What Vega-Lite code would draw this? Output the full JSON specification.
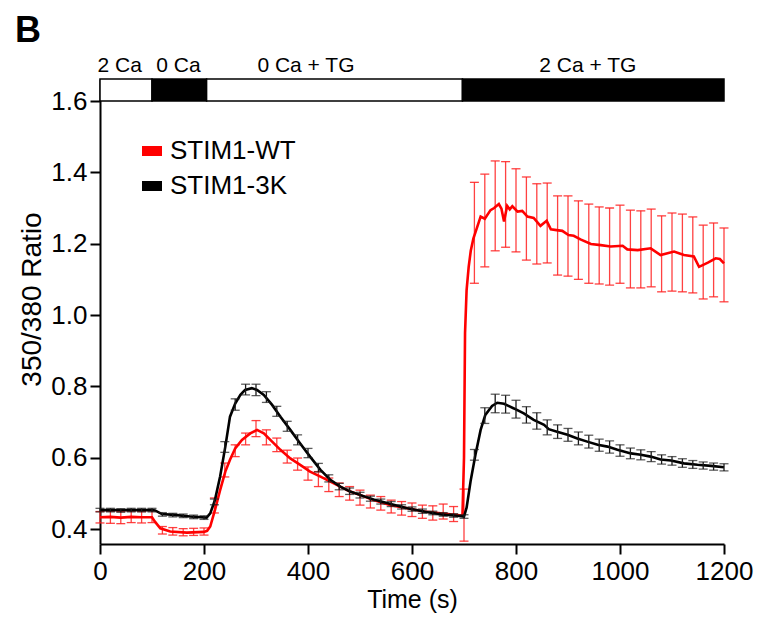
{
  "$schema": "https://vega.github.io/schema/vega-lite/v6.json",
  "width": 624,
  "height": 465,
  "autosize": "none",
  "padding": {"left": 100, "top": 79, "right": 33, "bottom": 77},
  "title": {"text": "B", "anchor": "start", "frame": "group", "dx": -85, "offset": 5, "fontSize": 36, "fontWeight": "bold", "font": "Liberation Sans", "color": "#000"},
  "datasets": {
    "protocol": [
      {"phase": "2 Ca", "start": 0, "end": 100, "labelTime": 38},
      {"phase": "0 Ca", "start": 100, "end": 205, "labelTime": 151},
      {"phase": "0 Ca + TG", "start": 205, "end": 697, "labelTime": 396},
      {"phase": "2 Ca + TG", "start": 697, "end": 1200, "labelTime": 938}
    ],
    "trace": [
      {"series": "STIM1-WT", "t": 0, "v": 0.433},
      {"series": "STIM1-WT", "t": 20, "v": 0.434},
      {"series": "STIM1-WT", "t": 40, "v": 0.432},
      {"series": "STIM1-WT", "t": 60, "v": 0.434},
      {"series": "STIM1-WT", "t": 80, "v": 0.433},
      {"series": "STIM1-WT", "t": 100, "v": 0.433},
      {"series": "STIM1-WT", "t": 106, "v": 0.42},
      {"series": "STIM1-WT", "t": 116, "v": 0.402},
      {"series": "STIM1-WT", "t": 135, "v": 0.393},
      {"series": "STIM1-WT", "t": 167, "v": 0.39},
      {"series": "STIM1-WT", "t": 200, "v": 0.392},
      {"series": "STIM1-WT", "t": 206, "v": 0.395},
      {"series": "STIM1-WT", "t": 212, "v": 0.407},
      {"series": "STIM1-WT", "t": 221, "v": 0.453},
      {"series": "STIM1-WT", "t": 231, "v": 0.509},
      {"series": "STIM1-WT", "t": 241, "v": 0.561},
      {"series": "STIM1-WT", "t": 250, "v": 0.594},
      {"series": "STIM1-WT", "t": 260, "v": 0.626},
      {"series": "STIM1-WT", "t": 273, "v": 0.65},
      {"series": "STIM1-WT", "t": 289, "v": 0.668},
      {"series": "STIM1-WT", "t": 302, "v": 0.678},
      {"series": "STIM1-WT", "t": 315, "v": 0.668},
      {"series": "STIM1-WT", "t": 331, "v": 0.645},
      {"series": "STIM1-WT", "t": 347, "v": 0.622},
      {"series": "STIM1-WT", "t": 366, "v": 0.598},
      {"series": "STIM1-WT", "t": 385, "v": 0.58},
      {"series": "STIM1-WT", "t": 404, "v": 0.561},
      {"series": "STIM1-WT", "t": 424, "v": 0.547},
      {"series": "STIM1-WT", "t": 443, "v": 0.533},
      {"series": "STIM1-WT", "t": 462, "v": 0.519},
      {"series": "STIM1-WT", "t": 481, "v": 0.505},
      {"series": "STIM1-WT", "t": 501, "v": 0.495},
      {"series": "STIM1-WT", "t": 526, "v": 0.481},
      {"series": "STIM1-WT", "t": 559, "v": 0.467},
      {"series": "STIM1-WT", "t": 591, "v": 0.458},
      {"series": "STIM1-WT", "t": 623, "v": 0.449},
      {"series": "STIM1-WT", "t": 655, "v": 0.444},
      {"series": "STIM1-WT", "t": 687, "v": 0.439},
      {"series": "STIM1-WT", "t": 697, "v": 0.437},
      {"series": "STIM1-WT", "t": 700, "v": 0.6},
      {"series": "STIM1-WT", "t": 702, "v": 0.95},
      {"series": "STIM1-WT", "t": 705, "v": 1.07},
      {"series": "STIM1-WT", "t": 709, "v": 1.135},
      {"series": "STIM1-WT", "t": 713, "v": 1.18},
      {"series": "STIM1-WT", "t": 718, "v": 1.214},
      {"series": "STIM1-WT", "t": 725, "v": 1.245},
      {"series": "STIM1-WT", "t": 732, "v": 1.276},
      {"series": "STIM1-WT", "t": 740, "v": 1.27},
      {"series": "STIM1-WT", "t": 751, "v": 1.294},
      {"series": "STIM1-WT", "t": 758, "v": 1.3},
      {"series": "STIM1-WT", "t": 767, "v": 1.311},
      {"series": "STIM1-WT", "t": 772, "v": 1.298},
      {"series": "STIM1-WT", "t": 777, "v": 1.262},
      {"series": "STIM1-WT", "t": 783, "v": 1.306},
      {"series": "STIM1-WT", "t": 788, "v": 1.296},
      {"series": "STIM1-WT", "t": 793, "v": 1.305},
      {"series": "STIM1-WT", "t": 803, "v": 1.29},
      {"series": "STIM1-WT", "t": 812, "v": 1.292},
      {"series": "STIM1-WT", "t": 822, "v": 1.276},
      {"series": "STIM1-WT", "t": 834, "v": 1.272},
      {"series": "STIM1-WT", "t": 847, "v": 1.25},
      {"series": "STIM1-WT", "t": 859, "v": 1.264},
      {"series": "STIM1-WT", "t": 867, "v": 1.24},
      {"series": "STIM1-WT", "t": 878, "v": 1.238},
      {"series": "STIM1-WT", "t": 889, "v": 1.236},
      {"series": "STIM1-WT", "t": 901, "v": 1.224},
      {"series": "STIM1-WT", "t": 911, "v": 1.222},
      {"series": "STIM1-WT", "t": 924, "v": 1.212},
      {"series": "STIM1-WT", "t": 944, "v": 1.199},
      {"series": "STIM1-WT", "t": 963, "v": 1.196},
      {"series": "STIM1-WT", "t": 982, "v": 1.192},
      {"series": "STIM1-WT", "t": 1005, "v": 1.194},
      {"series": "STIM1-WT", "t": 1014, "v": 1.184},
      {"series": "STIM1-WT", "t": 1034, "v": 1.182},
      {"series": "STIM1-WT", "t": 1059, "v": 1.187},
      {"series": "STIM1-WT", "t": 1078, "v": 1.168},
      {"series": "STIM1-WT", "t": 1104, "v": 1.178},
      {"series": "STIM1-WT", "t": 1123, "v": 1.168},
      {"series": "STIM1-WT", "t": 1142, "v": 1.164},
      {"series": "STIM1-WT", "t": 1152, "v": 1.135},
      {"series": "STIM1-WT", "t": 1169, "v": 1.147},
      {"series": "STIM1-WT", "t": 1184, "v": 1.159},
      {"series": "STIM1-WT", "t": 1192, "v": 1.157},
      {"series": "STIM1-WT", "t": 1200, "v": 1.145},
      {"series": "STIM1-3K", "t": 0, "v": 0.453},
      {"series": "STIM1-3K", "t": 50, "v": 0.453},
      {"series": "STIM1-3K", "t": 100, "v": 0.453},
      {"series": "STIM1-3K", "t": 106, "v": 0.452},
      {"series": "STIM1-3K", "t": 119, "v": 0.442},
      {"series": "STIM1-3K", "t": 148, "v": 0.439},
      {"series": "STIM1-3K", "t": 173, "v": 0.435},
      {"series": "STIM1-3K", "t": 205, "v": 0.432},
      {"series": "STIM1-3K", "t": 212, "v": 0.444},
      {"series": "STIM1-3K", "t": 221, "v": 0.481},
      {"series": "STIM1-3K", "t": 231, "v": 0.547},
      {"series": "STIM1-3K", "t": 241, "v": 0.631},
      {"series": "STIM1-3K", "t": 250, "v": 0.715},
      {"series": "STIM1-3K", "t": 260, "v": 0.752},
      {"series": "STIM1-3K", "t": 270, "v": 0.776},
      {"series": "STIM1-3K", "t": 279, "v": 0.79},
      {"series": "STIM1-3K", "t": 292, "v": 0.795},
      {"series": "STIM1-3K", "t": 302, "v": 0.79},
      {"series": "STIM1-3K", "t": 315, "v": 0.776},
      {"series": "STIM1-3K", "t": 331, "v": 0.748},
      {"series": "STIM1-3K", "t": 347, "v": 0.715},
      {"series": "STIM1-3K", "t": 366, "v": 0.678},
      {"series": "STIM1-3K", "t": 385, "v": 0.64},
      {"series": "STIM1-3K", "t": 404, "v": 0.603},
      {"series": "STIM1-3K", "t": 424, "v": 0.566},
      {"series": "STIM1-3K", "t": 443, "v": 0.538},
      {"series": "STIM1-3K", "t": 462, "v": 0.519},
      {"series": "STIM1-3K", "t": 481, "v": 0.505},
      {"series": "STIM1-3K", "t": 501, "v": 0.495},
      {"series": "STIM1-3K", "t": 526, "v": 0.483},
      {"series": "STIM1-3K", "t": 559, "v": 0.47},
      {"series": "STIM1-3K", "t": 591, "v": 0.458},
      {"series": "STIM1-3K", "t": 623, "v": 0.449},
      {"series": "STIM1-3K", "t": 655, "v": 0.441},
      {"series": "STIM1-3K", "t": 687, "v": 0.437},
      {"series": "STIM1-3K", "t": 700, "v": 0.435},
      {"series": "STIM1-3K", "t": 705, "v": 0.46},
      {"series": "STIM1-3K", "t": 713, "v": 0.537},
      {"series": "STIM1-3K", "t": 722, "v": 0.608},
      {"series": "STIM1-3K", "t": 732, "v": 0.678},
      {"series": "STIM1-3K", "t": 741, "v": 0.72},
      {"series": "STIM1-3K", "t": 754, "v": 0.745},
      {"series": "STIM1-3K", "t": 764, "v": 0.754},
      {"series": "STIM1-3K", "t": 777, "v": 0.751},
      {"series": "STIM1-3K", "t": 796, "v": 0.738},
      {"series": "STIM1-3K", "t": 815, "v": 0.724},
      {"series": "STIM1-3K", "t": 834, "v": 0.706},
      {"series": "STIM1-3K", "t": 854, "v": 0.692},
      {"series": "STIM1-3K", "t": 863, "v": 0.68},
      {"series": "STIM1-3K", "t": 879, "v": 0.673},
      {"series": "STIM1-3K", "t": 899, "v": 0.664},
      {"series": "STIM1-3K", "t": 918, "v": 0.654},
      {"series": "STIM1-3K", "t": 937, "v": 0.645},
      {"series": "STIM1-3K", "t": 957, "v": 0.636},
      {"series": "STIM1-3K", "t": 976, "v": 0.631},
      {"series": "STIM1-3K", "t": 995, "v": 0.622},
      {"series": "STIM1-3K", "t": 1021, "v": 0.612},
      {"series": "STIM1-3K", "t": 1040, "v": 0.608},
      {"series": "STIM1-3K", "t": 1059, "v": 0.603},
      {"series": "STIM1-3K", "t": 1078, "v": 0.595},
      {"series": "STIM1-3K", "t": 1098, "v": 0.592},
      {"series": "STIM1-3K", "t": 1123, "v": 0.584},
      {"series": "STIM1-3K", "t": 1149, "v": 0.58},
      {"series": "STIM1-3K", "t": 1175, "v": 0.577},
      {"series": "STIM1-3K", "t": 1200, "v": 0.573}
    ],
    "errors": [
      {"series": "STIM1-WT", "t": 0, "lo": 0.417, "hi": 0.449},
      {"series": "STIM1-WT", "t": 20, "lo": 0.416, "hi": 0.45},
      {"series": "STIM1-WT", "t": 40, "lo": 0.415, "hi": 0.449},
      {"series": "STIM1-WT", "t": 60, "lo": 0.418, "hi": 0.45},
      {"series": "STIM1-WT", "t": 80, "lo": 0.417, "hi": 0.449},
      {"series": "STIM1-WT", "t": 100, "lo": 0.418, "hi": 0.451},
      {"series": "STIM1-WT", "t": 120, "lo": 0.386, "hi": 0.407},
      {"series": "STIM1-WT", "t": 140, "lo": 0.383, "hi": 0.404},
      {"series": "STIM1-WT", "t": 160, "lo": 0.381, "hi": 0.401},
      {"series": "STIM1-WT", "t": 180, "lo": 0.382, "hi": 0.402},
      {"series": "STIM1-WT", "t": 200, "lo": 0.383, "hi": 0.403},
      {"series": "STIM1-WT", "t": 220, "lo": 0.445, "hi": 0.487},
      {"series": "STIM1-WT", "t": 240, "lo": 0.546, "hi": 0.585},
      {"series": "STIM1-WT", "t": 260, "lo": 0.603, "hi": 0.636},
      {"series": "STIM1-WT", "t": 280, "lo": 0.636, "hi": 0.669},
      {"series": "STIM1-WT", "t": 300, "lo": 0.659, "hi": 0.704},
      {"series": "STIM1-WT", "t": 320, "lo": 0.636, "hi": 0.678},
      {"series": "STIM1-WT", "t": 340, "lo": 0.617, "hi": 0.655},
      {"series": "STIM1-WT", "t": 360, "lo": 0.585, "hi": 0.621},
      {"series": "STIM1-WT", "t": 380, "lo": 0.565, "hi": 0.599},
      {"series": "STIM1-WT", "t": 400, "lo": 0.537, "hi": 0.574},
      {"series": "STIM1-WT", "t": 420, "lo": 0.519, "hi": 0.561},
      {"series": "STIM1-WT", "t": 440, "lo": 0.505, "hi": 0.543},
      {"series": "STIM1-WT", "t": 460, "lo": 0.491, "hi": 0.529},
      {"series": "STIM1-WT", "t": 480, "lo": 0.481, "hi": 0.519},
      {"series": "STIM1-WT", "t": 500, "lo": 0.467, "hi": 0.509},
      {"series": "STIM1-WT", "t": 520, "lo": 0.459, "hi": 0.495},
      {"series": "STIM1-WT", "t": 540, "lo": 0.453, "hi": 0.491},
      {"series": "STIM1-WT", "t": 560, "lo": 0.445, "hi": 0.481},
      {"series": "STIM1-WT", "t": 580, "lo": 0.439, "hi": 0.477},
      {"series": "STIM1-WT", "t": 600, "lo": 0.435, "hi": 0.473},
      {"series": "STIM1-WT", "t": 620, "lo": 0.43, "hi": 0.467},
      {"series": "STIM1-WT", "t": 640, "lo": 0.425, "hi": 0.465},
      {"series": "STIM1-WT", "t": 660, "lo": 0.428, "hi": 0.47},
      {"series": "STIM1-WT", "t": 680, "lo": 0.421, "hi": 0.463},
      {"series": "STIM1-WT", "t": 700, "lo": 0.366, "hi": 0.512},
      {"series": "STIM1-WT", "t": 720, "lo": 1.089, "hi": 1.372},
      {"series": "STIM1-WT", "t": 740, "lo": 1.135, "hi": 1.395},
      {"series": "STIM1-WT", "t": 760, "lo": 1.18, "hi": 1.432},
      {"series": "STIM1-WT", "t": 780, "lo": 1.19, "hi": 1.43},
      {"series": "STIM1-WT", "t": 800, "lo": 1.177, "hi": 1.41},
      {"series": "STIM1-WT", "t": 820, "lo": 1.154, "hi": 1.387},
      {"series": "STIM1-WT", "t": 840, "lo": 1.143, "hi": 1.368},
      {"series": "STIM1-WT", "t": 860, "lo": 1.146, "hi": 1.37},
      {"series": "STIM1-WT", "t": 880, "lo": 1.112, "hi": 1.334},
      {"series": "STIM1-WT", "t": 900, "lo": 1.109, "hi": 1.334},
      {"series": "STIM1-WT", "t": 920, "lo": 1.1, "hi": 1.32},
      {"series": "STIM1-WT", "t": 940, "lo": 1.089, "hi": 1.311},
      {"series": "STIM1-WT", "t": 960, "lo": 1.087, "hi": 1.303},
      {"series": "STIM1-WT", "t": 980, "lo": 1.084, "hi": 1.3},
      {"series": "STIM1-WT", "t": 1000, "lo": 1.089, "hi": 1.308},
      {"series": "STIM1-WT", "t": 1020, "lo": 1.076, "hi": 1.294},
      {"series": "STIM1-WT", "t": 1040, "lo": 1.076, "hi": 1.292},
      {"series": "STIM1-WT", "t": 1060, "lo": 1.079, "hi": 1.297},
      {"series": "STIM1-WT", "t": 1080, "lo": 1.065, "hi": 1.278},
      {"series": "STIM1-WT", "t": 1100, "lo": 1.067, "hi": 1.286},
      {"series": "STIM1-WT", "t": 1120, "lo": 1.065, "hi": 1.283},
      {"series": "STIM1-WT", "t": 1140, "lo": 1.062, "hi": 1.275},
      {"series": "STIM1-WT", "t": 1160, "lo": 1.045, "hi": 1.252},
      {"series": "STIM1-WT", "t": 1180, "lo": 1.051, "hi": 1.258},
      {"series": "STIM1-WT", "t": 1200, "lo": 1.037, "hi": 1.244},
      {"series": "STIM1-3K", "t": 0, "lo": 0.448, "hi": 0.458},
      {"series": "STIM1-3K", "t": 20, "lo": 0.448, "hi": 0.458},
      {"series": "STIM1-3K", "t": 40, "lo": 0.447, "hi": 0.457},
      {"series": "STIM1-3K", "t": 60, "lo": 0.448, "hi": 0.458},
      {"series": "STIM1-3K", "t": 80, "lo": 0.448, "hi": 0.458},
      {"series": "STIM1-3K", "t": 100, "lo": 0.448, "hi": 0.458},
      {"series": "STIM1-3K", "t": 120, "lo": 0.436, "hi": 0.446},
      {"series": "STIM1-3K", "t": 140, "lo": 0.434, "hi": 0.444},
      {"series": "STIM1-3K", "t": 160, "lo": 0.432, "hi": 0.442},
      {"series": "STIM1-3K", "t": 180, "lo": 0.429, "hi": 0.439},
      {"series": "STIM1-3K", "t": 200, "lo": 0.427, "hi": 0.437},
      {"series": "STIM1-3K", "t": 220, "lo": 0.468, "hi": 0.484},
      {"series": "STIM1-3K", "t": 240, "lo": 0.615, "hi": 0.645},
      {"series": "STIM1-3K", "t": 260, "lo": 0.733, "hi": 0.765},
      {"series": "STIM1-3K", "t": 280, "lo": 0.776, "hi": 0.806},
      {"series": "STIM1-3K", "t": 300, "lo": 0.774, "hi": 0.806},
      {"series": "STIM1-3K", "t": 320, "lo": 0.755, "hi": 0.785},
      {"series": "STIM1-3K", "t": 340, "lo": 0.716, "hi": 0.744},
      {"series": "STIM1-3K", "t": 360, "lo": 0.674, "hi": 0.702},
      {"series": "STIM1-3K", "t": 380, "lo": 0.636, "hi": 0.664},
      {"series": "STIM1-3K", "t": 400, "lo": 0.6, "hi": 0.626},
      {"series": "STIM1-3K", "t": 420, "lo": 0.56, "hi": 0.584},
      {"series": "STIM1-3K", "t": 440, "lo": 0.532, "hi": 0.552},
      {"series": "STIM1-3K", "t": 460, "lo": 0.51, "hi": 0.528},
      {"series": "STIM1-3K", "t": 480, "lo": 0.497, "hi": 0.515},
      {"series": "STIM1-3K", "t": 500, "lo": 0.487, "hi": 0.503},
      {"series": "STIM1-3K", "t": 520, "lo": 0.478, "hi": 0.492},
      {"series": "STIM1-3K", "t": 540, "lo": 0.47, "hi": 0.484},
      {"series": "STIM1-3K", "t": 560, "lo": 0.463, "hi": 0.477},
      {"series": "STIM1-3K", "t": 580, "lo": 0.456, "hi": 0.468},
      {"series": "STIM1-3K", "t": 600, "lo": 0.45, "hi": 0.462},
      {"series": "STIM1-3K", "t": 620, "lo": 0.444, "hi": 0.456},
      {"series": "STIM1-3K", "t": 640, "lo": 0.44, "hi": 0.45},
      {"series": "STIM1-3K", "t": 660, "lo": 0.436, "hi": 0.446},
      {"series": "STIM1-3K", "t": 680, "lo": 0.433, "hi": 0.443},
      {"series": "STIM1-3K", "t": 700, "lo": 0.43, "hi": 0.44},
      {"series": "STIM1-3K", "t": 720, "lo": 0.593, "hi": 0.623},
      {"series": "STIM1-3K", "t": 740, "lo": 0.696, "hi": 0.74},
      {"series": "STIM1-3K", "t": 760, "lo": 0.726, "hi": 0.778},
      {"series": "STIM1-3K", "t": 780, "lo": 0.725, "hi": 0.775},
      {"series": "STIM1-3K", "t": 800, "lo": 0.711, "hi": 0.761},
      {"series": "STIM1-3K", "t": 820, "lo": 0.697, "hi": 0.743},
      {"series": "STIM1-3K", "t": 840, "lo": 0.68, "hi": 0.726},
      {"series": "STIM1-3K", "t": 860, "lo": 0.664, "hi": 0.706},
      {"series": "STIM1-3K", "t": 880, "lo": 0.654, "hi": 0.692},
      {"series": "STIM1-3K", "t": 900, "lo": 0.646, "hi": 0.682},
      {"series": "STIM1-3K", "t": 920, "lo": 0.636, "hi": 0.672},
      {"series": "STIM1-3K", "t": 940, "lo": 0.627, "hi": 0.663},
      {"series": "STIM1-3K", "t": 960, "lo": 0.618, "hi": 0.652},
      {"series": "STIM1-3K", "t": 980, "lo": 0.613, "hi": 0.647},
      {"series": "STIM1-3K", "t": 1000, "lo": 0.604, "hi": 0.636},
      {"series": "STIM1-3K", "t": 1020, "lo": 0.597, "hi": 0.627},
      {"series": "STIM1-3K", "t": 1040, "lo": 0.594, "hi": 0.622},
      {"series": "STIM1-3K", "t": 1060, "lo": 0.589, "hi": 0.617},
      {"series": "STIM1-3K", "t": 1080, "lo": 0.582, "hi": 0.608},
      {"series": "STIM1-3K", "t": 1100, "lo": 0.579, "hi": 0.603},
      {"series": "STIM1-3K", "t": 1120, "lo": 0.573, "hi": 0.597},
      {"series": "STIM1-3K", "t": 1140, "lo": 0.57, "hi": 0.592},
      {"series": "STIM1-3K", "t": 1160, "lo": 0.568, "hi": 0.588},
      {"series": "STIM1-3K", "t": 1180, "lo": 0.565, "hi": 0.585},
      {"series": "STIM1-3K", "t": 1200, "lo": 0.563, "hi": 0.583}
    ]
  },
  "layer": [
    {
      "data": {"name": "errors"},
      "transform": [{"filter": "datum.series === 'STIM1-WT'"}],
      "mark": {"type": "errorbar", "ticks": {"size": 9}, "thickness": 1.3, "color": "#ff2020", "opacity": 0.85},
      "encoding": {
        "x": {"field": "t", "type": "quantitative", "title": "Time (s)"},
        "y": {"field": "lo", "type": "quantitative", "title": "350/380 Ratio"},
        "y2": {"field": "hi"}
      }
    },
    {
      "data": {"name": "trace"},
      "mark": {"type": "line", "strokeWidth": 2.6},
      "encoding": {
        "x": {"field": "t", "type": "quantitative", "title": "Time (s)", "scale": {"domain": [0, 1200], "nice": false}, "axis": {"values": [0, 200, 400, 600, 800, 1000, 1200], "format": "d"}},
        "y": {"field": "v", "type": "quantitative", "title": "350/380 Ratio", "scale": {"domain": [0.358, 1.6617], "nice": false, "zero": false}, "axis": {"values": [0.4, 0.6, 0.8, 1.0, 1.2, 1.4, 1.6], "format": ".1f", "titleFontSize": 28, "titleY": 220}},
        "color": {
          "field": "series", "type": "nominal",
          "scale": {"domain": ["STIM1-WT", "STIM1-3K"], "range": ["#ff0000", "#000000"]},
          "legend": {"title": null, "orient": "none", "legendX": 37, "legendY": 57, "padding": 0, "symbolType": "stroke", "symbolStrokeWidth": 10, "symbolSize": 400, "labelFontSize": 26, "labelOffset": 3, "rowPadding": -5, "labelColor": "#000", "labelFont": "Liberation Sans"}
        },
        "order": {"field": "t", "type": "quantitative"}
      }
    },
    {
      "data": {"name": "errors"},
      "transform": [{"filter": "datum.series === 'STIM1-3K'"}],
      "mark": {"type": "errorbar", "ticks": {"size": 9}, "thickness": 1.3, "color": "#1a1a1a"},
      "encoding": {
        "x": {"field": "t", "type": "quantitative", "title": "Time (s)"},
        "y": {"field": "lo", "type": "quantitative", "title": "350/380 Ratio"},
        "y2": {"field": "hi"}
      }
    },
    {
      "data": {"name": "protocol"},
      "mark": {"type": "rect", "stroke": "#000", "strokeWidth": 1.5},
      "encoding": {
        "x": {"field": "start", "type": "quantitative", "title": "Time (s)"},
        "x2": {"field": "end"},
        "y": {"datum": 1.6, "title": "350/380 Ratio"},
        "y2": {"datum": 1.6617},
        "fill": {"field": "phase", "type": "nominal", "scale": {"domain": ["2 Ca", "0 Ca", "0 Ca + TG", "2 Ca + TG"], "range": ["#ffffff", "#000000", "#ffffff", "#000000"]}, "legend": null}
      }
    },
    {
      "data": {"name": "protocol"},
      "mark": {"type": "text", "baseline": "bottom", "dy": -3, "fontSize": 21, "font": "Liberation Sans", "color": "#000"},
      "encoding": {
        "x": {"field": "labelTime", "type": "quantitative", "title": "Time (s)"},
        "y": {"datum": 1.6617, "title": "350/380 Ratio"},
        "text": {"field": "phase"}
      }
    }
  ],
  "config": {
    "view": {"stroke": null},
    "font": "Liberation Sans",
    "axis": {
      "grid": false,
      "domainColor": "#000",
      "domainWidth": 2,
      "tickColor": "#000",
      "tickWidth": 2,
      "tickSize": 10,
      "labelFontSize": 26,
      "labelColor": "#000",
      "labelFont": "Liberation Sans",
      "titleFontSize": 25,
      "titleFontWeight": "normal",
      "titleColor": "#000",
      "titleFont": "Liberation Sans",
      "labelFlush": false,
      "labelOverlap": false
    },
    "axisX": {"labelPadding": 4, "titlePadding": 3},
    "axisY": {"labelPadding": 3, "titlePadding": 4}
  }
}
